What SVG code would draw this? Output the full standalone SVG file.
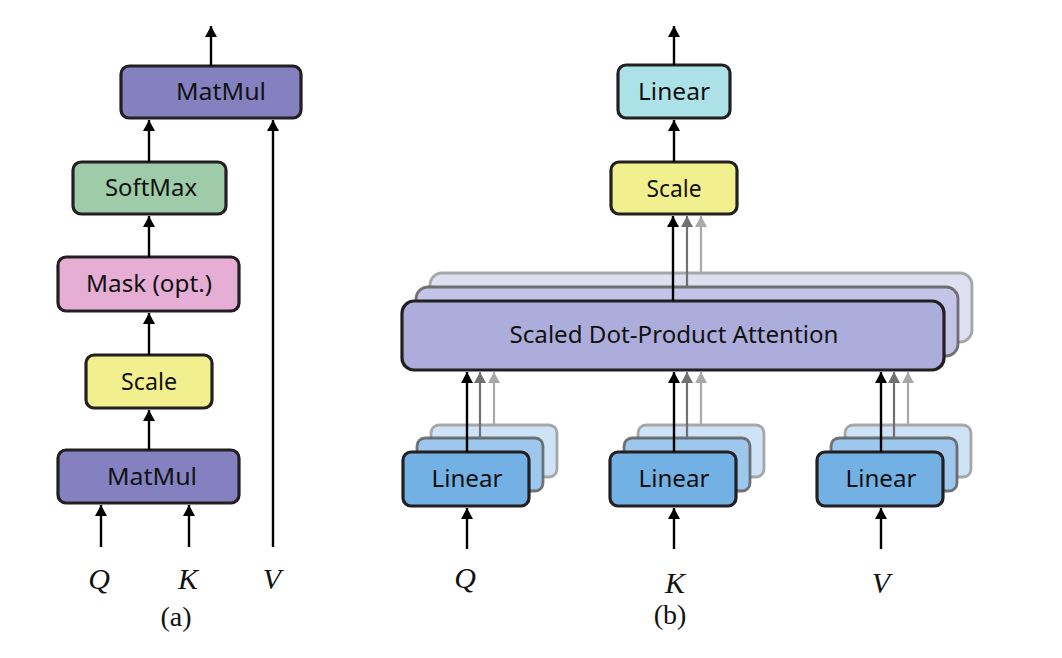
<svg xmlns="http://www.w3.org/2000/svg" width="1062" height="658" viewBox="0 0 1062 658">
<style>
.box{stroke:#231f20;stroke-width:3.2}
.b2{stroke:#5e5e5e;stroke-width:2.8;stroke-opacity:0.85}
.b3{stroke:#9a9a9a;stroke-width:2.8;stroke-opacity:0.85}
.lbl{font-family:"Noto Sans","Open Sans",sans-serif;font-size:24px;fill:#111;text-anchor:middle}
.var{font-family:"Liberation Serif","Times New Roman",serif;font-style:italic;font-size:30px;fill:#111;text-anchor:middle}
.cap{font-family:"Liberation Serif","Times New Roman",serif;font-size:28px;fill:#111;text-anchor:middle}
.k{stroke:#000;stroke-width:2.4;fill:none;marker-end:url(#ak)}
.g{stroke:#707070;stroke-width:2.2;fill:none;marker-end:url(#ag)}
.l{stroke:#a8a8a8;stroke-width:2.2;fill:none;marker-end:url(#al)}
</style>
<defs>
<marker id="ak" markerUnits="userSpaceOnUse" markerWidth="12" markerHeight="12" refX="11" refY="6" orient="auto"><path d="M0,0 L11,6 L0,12 z" fill="#000"/></marker>
<marker id="ag" markerUnits="userSpaceOnUse" markerWidth="12" markerHeight="12" refX="11" refY="6" orient="auto"><path d="M0,0 L11,6 L0,12 z" fill="#707070"/></marker>
<marker id="al" markerUnits="userSpaceOnUse" markerWidth="12" markerHeight="12" refX="11" refY="6" orient="auto"><path d="M0,0 L11,6 L0,12 z" fill="#a8a8a8"/></marker>
</defs>
<rect width="1062" height="658" fill="#fff"/>

<!-- (a) -->
<g id="a-matmul-top"><rect class="box" x="121" y="66" width="180" height="52" rx="8" fill="#8581c1"/><text class="lbl" x="221" y="100" textLength="90" lengthAdjust="spacingAndGlyphs">MatMul</text></g>
<g id="a-softmax"><rect class="box" x="73" y="162" width="153" height="52" rx="8" fill="#9ecba8"/><text class="lbl" x="151" y="196" textLength="92" lengthAdjust="spacingAndGlyphs">SoftMax</text></g>
<g id="a-mask"><rect class="box" x="58" y="257" width="181" height="54" rx="8" fill="#e6add5"/><text class="lbl" x="149" y="292" textLength="126" lengthAdjust="spacingAndGlyphs">Mask (opt.)</text></g>
<g id="a-scale"><rect class="box" x="86" y="355" width="126" height="53" rx="8" fill="#f2f08e"/><text class="lbl" x="149" y="390" textLength="56" lengthAdjust="spacingAndGlyphs">Scale</text></g>
<g id="a-matmul-bottom"><rect class="box" x="58" y="450" width="181" height="53" rx="8" fill="#8581c1"/><text class="lbl" x="152" y="485" textLength="90" lengthAdjust="spacingAndGlyphs">MatMul</text></g>
<g id="a-labels">
<text class="var" x="99" y="589">Q</text>
<text class="var" x="188" y="589">K</text>
<text class="var" x="272" y="589">V</text>
<text class="cap" x="176" y="626">(a)</text>
</g>

<!-- (b) -->
<g id="b-linear-top"><rect class="box" x="618" y="65" width="112" height="53" rx="8" fill="#ace2e7"/><text class="lbl" x="674" y="100" textLength="72" lengthAdjust="spacingAndGlyphs">Linear</text></g>
<g id="b-scale"><rect class="box" x="611" y="162" width="126" height="52" rx="8" fill="#f2f08e"/><text class="lbl" x="674" y="197" textLength="55" lengthAdjust="spacingAndGlyphs">Scale</text></g>
<g id="b-attention">
<rect class="b3" x="430" y="273" width="542" height="69" rx="12" fill="#dfdff1"/>
<rect class="b2" x="416" y="287" width="542" height="69" rx="12" fill="#c4c4e6"/>
<rect class="box" x="402" y="301" width="542" height="69" rx="12" fill="#adaddc"/>
<text class="lbl" x="674" y="343" textLength="329" lengthAdjust="spacingAndGlyphs">Scaled Dot-Product Attention</text>
</g>
<g id="b-linear-q">
<rect class="b3" x="431" y="425" width="126" height="52" rx="8" fill="#cfe3f6"/>
<rect class="b2" x="417" y="438" width="126" height="53" rx="8" fill="#9dc7ec"/>
<rect class="box" x="403" y="452" width="126" height="54" rx="8" fill="#73b0e3"/>
<text class="lbl" x="467" y="487" textLength="71" lengthAdjust="spacingAndGlyphs">Linear</text>
</g>
<g id="b-linear-k">
<rect class="b3" x="638" y="425" width="126" height="52" rx="8" fill="#cfe3f6"/>
<rect class="b2" x="624" y="438" width="126" height="53" rx="8" fill="#9dc7ec"/>
<rect class="box" x="610" y="452" width="126" height="54" rx="8" fill="#73b0e3"/>
<text class="lbl" x="674" y="487" textLength="71" lengthAdjust="spacingAndGlyphs">Linear</text>
</g>
<g id="b-linear-v">
<rect class="b3" x="845" y="425" width="126" height="52" rx="8" fill="#cfe3f6"/>
<rect class="b2" x="831" y="438" width="126" height="53" rx="8" fill="#9dc7ec"/>
<rect class="box" x="817" y="452" width="126" height="54" rx="8" fill="#73b0e3"/>
<text class="lbl" x="881" y="487" textLength="71" lengthAdjust="spacingAndGlyphs">Linear</text>
</g>
<g id="b-labels">
<text class="var" x="465" y="588">Q</text>
<text class="var" x="675" y="593">K</text>
<text class="var" x="881" y="593">V</text>
<text class="cap" x="670" y="624">(b)</text>
</g>

<g id="connectors">
<line class="k" x1="211" y1="66" x2="211" y2="26"/>
<line class="k" x1="149" y1="162" x2="149" y2="120"/>
<line class="k" x1="149" y1="257" x2="149" y2="216"/>
<line class="k" x1="149" y1="355" x2="149" y2="313"/>
<line class="k" x1="149" y1="450" x2="149" y2="410"/>
<line class="k" x1="101" y1="547" x2="101" y2="505"/>
<line class="k" x1="189" y1="547" x2="189" y2="505"/>
<line class="k" x1="273" y1="547" x2="273" y2="120"/>

<line class="k" x1="674" y1="65" x2="674" y2="26"/>
<line class="k" x1="674" y1="162" x2="674" y2="120"/>
<line class="l" x1="701" y1="273" x2="701" y2="216"/>
<line class="g" x1="687" y1="287" x2="687" y2="216"/>
<line class="k" x1="673" y1="301" x2="673" y2="216"/>

<line class="l" x1="494" y1="425" x2="494" y2="372"/>
<line class="g" x1="480" y1="438" x2="480" y2="372"/>
<line class="k" x1="467" y1="452" x2="467" y2="372"/>
<line class="k" x1="467" y1="549" x2="467" y2="508"/>

<line class="l" x1="701" y1="425" x2="701" y2="372"/>
<line class="g" x1="687" y1="438" x2="687" y2="372"/>
<line class="k" x1="674" y1="452" x2="674" y2="372"/>
<line class="k" x1="674" y1="549" x2="674" y2="508"/>

<line class="l" x1="908" y1="425" x2="908" y2="372"/>
<line class="g" x1="894" y1="438" x2="894" y2="372"/>
<line class="k" x1="881" y1="452" x2="881" y2="372"/>
<line class="k" x1="881" y1="549" x2="881" y2="508"/>
</g>
</svg>
